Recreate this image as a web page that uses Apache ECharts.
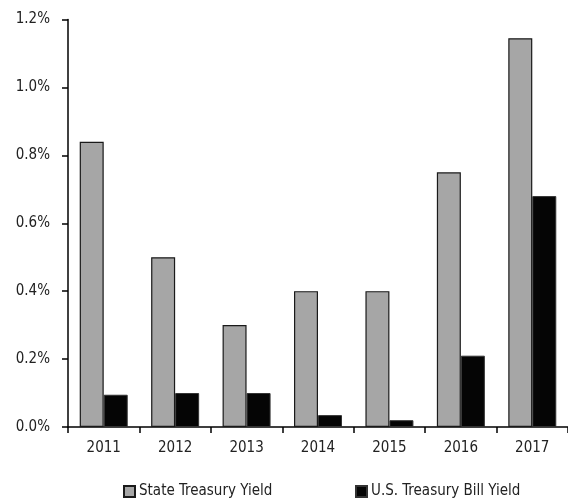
<!DOCTYPE html>
<html><head><meta charset="utf-8">
<script src="https://cdn.jsdelivr.net/npm/echarts@6/dist/echarts.min.js"></script>
<style>html,body{margin:0;padding:0;background:#fff}#c{width:568px;height:499px}</style>
</head><body><div id="c"></div>
<script>
var categories = ['2011','2012','2013','2014','2015','2016','2017'];
var stateYield = [0.84, 0.50, 0.30, 0.40, 0.40, 0.75, 1.145];
var usBillYield = [0.095, 0.10, 0.10, 0.035, 0.02, 0.21, 0.68];
var seriesNames = ['State Treasury Yield', 'U.S. Treasury Bill Yield'];
var yTicks = [0, 0.2, 0.4, 0.6, 0.8, 1.0, 1.2];

var FONT = '"DejaVu Sans Condensed",sans-serif';
var legTxt = {fontFamily: FONT, fontSize: 15, color: '#222', padding: [0,0,0,-1]};
var chart = echarts.init(document.getElementById('c'), null, {renderer:'canvas'});
chart.setOption({
  animation: false,
  textStyle: {fontFamily: FONT},
  grid: {left: 68, top: 19.5, width: 502, height: 407.5},
  legend: [
    {left: 118, top: 479, itemWidth: 11, itemHeight: 11, icon: 'rect', textStyle: legTxt, data: [seriesNames[0]]},
    {left: 350, top: 479, itemWidth: 11, itemHeight: 11, icon: 'rect', textStyle: legTxt, data: [seriesNames[1]]}
  ],
  xAxis: {
    type: 'category', data: categories,
    axisLine: {lineStyle: {color: '#000', width: 1.5}},
    axisTick: {show: true, length: 6, lineStyle: {color: '#000', width: 1.5}},
    axisLabel: {margin: 14, fontFamily: FONT, fontSize: 15, color: '#222'}
  },
  yAxis: {
    type: 'value', min: yTicks[0], max: yTicks[yTicks.length-1], interval: 0.2,
    splitLine: {show: false},
    axisLine: {show: true, lineStyle: {color: '#000', width: 1.5}},
    axisTick: {show: true, length: 6, lineStyle: {color: '#000', width: 1.5}},
    axisLabel: {margin: 18, fontFamily: FONT, fontSize: 15, color: '#222',
      formatter: function(v){ return v.toFixed(1) + '%'; }}
  },
  series: [
    {name: seriesNames[0], type: 'bar', data: stateYield, barWidth: 24, barGap: '0%',
     itemStyle: {color: '#a6a6a6', borderColor: '#1a1a1a', borderWidth: 1.2}},
    {name: seriesNames[1], type: 'bar', data: usBillYield, barWidth: 24,
     itemStyle: {color: '#050505', borderColor: '#333', borderWidth: 1}}
  ]
});
</script></body></html>
